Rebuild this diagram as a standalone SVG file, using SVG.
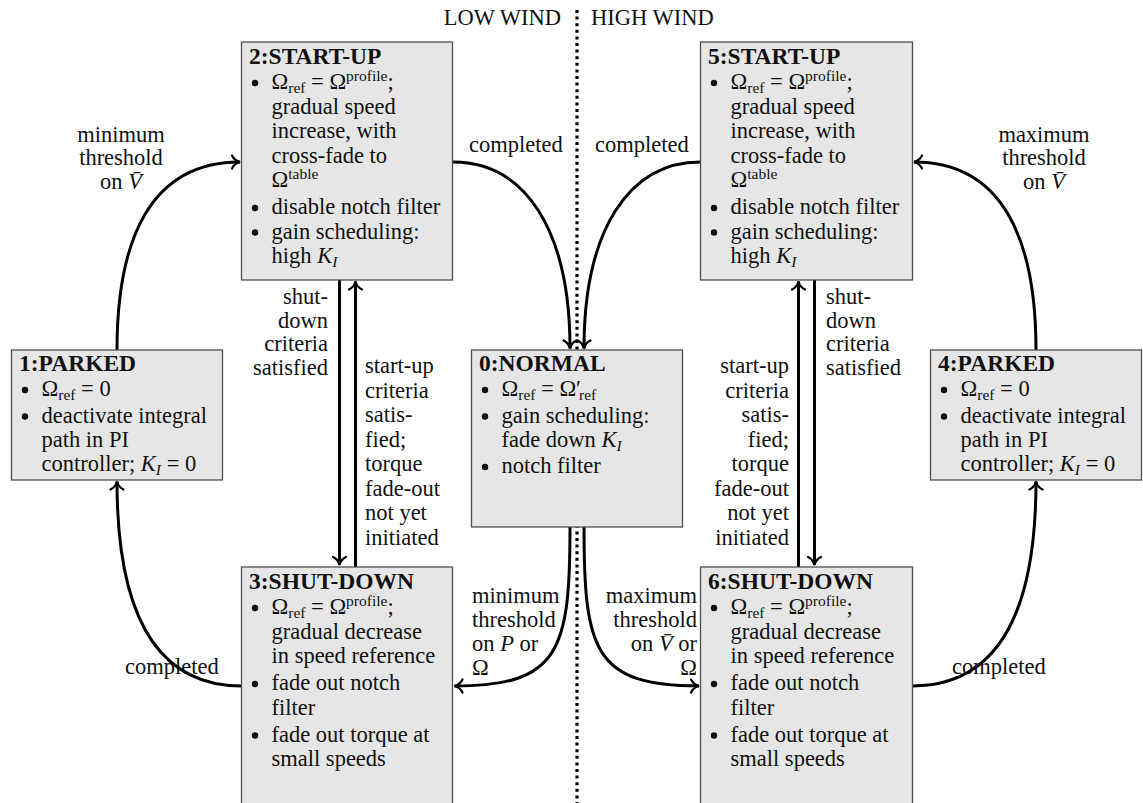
<svg xmlns="http://www.w3.org/2000/svg" width="1143" height="803" viewBox="0 0 1143 803">
<style>
.box{fill:#e6e6e6;stroke:#505050;stroke-width:1.3}
.t{font-family:'Liberation Serif','DejaVu Serif',serif;font-size:22.5px;fill:#111}
.ttl{font-weight:bold;font-size:23.5px}
.sub{font-size:15.5px}
.it{font-style:italic}
.bul{fill:#111}
.conn{fill:none;stroke:#000;stroke-width:3;marker-end:url(#ah)}
.dot{stroke:#000;stroke-width:3.2;stroke-dasharray:3 3.6;fill:none}
.e{text-anchor:end}
.m{text-anchor:middle}
</style>
<defs>
<marker id="ah" viewBox="-10 -8 12 16" refX="0" refY="0" markerWidth="12" markerHeight="16" markerUnits="userSpaceOnUse" orient="auto" overflow="visible">
<path d="M-8,-6.5 C-6,-2.5 -2.5,-0.6 0,0 C-2.5,0.6 -6,2.5 -8,6.5" fill="none" stroke="#000" stroke-width="2.2" stroke-linecap="round"/>
</marker>
</defs>

<g id="divider">
<line class="dot" x1="577" y1="10" x2="577" y2="803"/>
<text class="t e" x="561" y="25">LOW WIND</text>
<text class="t" x="591" y="25">HIGH WIND</text>
</g>

<g id="connectors">
<path class="conn" d="M117,350 C117,240 150,162 240,162"/>
<path class="conn" d="M453,162 C525,162 570,230 570,348.5"/>
<path class="conn" d="M700.5,162 C629,162 584,230 584,348.5"/>
<path class="conn" d="M1036,350 C1036,240 1003,162 914,162"/>
<path class="conn" d="M339.5,280 L339.5,565"/>
<path class="conn" d="M355.5,567 L355.5,281.5"/>
<path class="conn" d="M798.5,567 L798.5,281.5"/>
<path class="conn" d="M814.5,280 L814.5,565"/>
<path class="conn" d="M570,527 C570,650 560,686 454.5,686"/>
<path class="conn" d="M584,527 C584,650 594,686 699,686"/>
<path class="conn" d="M241.5,686 C160,686 117,620 117,481.5"/>
<path class="conn" d="M912.5,686 C993,686 1036,620 1036,481.5"/>

<g id="labels">
<text class="t m" x="121" y="142">minimum</text>
<text class="t m" x="121" y="165">threshold</text>
<text class="t m" x="121" y="189">on <tspan class="it">V̄</tspan></text>

<text class="t m" x="1044" y="142">maximum</text>
<text class="t m" x="1044" y="165">threshold</text>
<text class="t m" x="1044" y="189">on <tspan class="it">V̄</tspan></text>

<text class="t" x="469" y="152">completed</text>
<text class="t" x="595" y="152">completed</text>

<text class="t e" x="328" y="304">shut-</text>
<text class="t e" x="328" y="327.5">down</text>
<text class="t e" x="328" y="351">criteria</text>
<text class="t e" x="328" y="374.5">satisfied</text>

<text class="t" x="365" y="373">start-up</text>
<text class="t" x="365" y="397.5">criteria</text>
<text class="t" x="365" y="422">satis-</text>
<text class="t" x="365" y="446.5">fied;</text>
<text class="t" x="365" y="471">torque</text>
<text class="t" x="365" y="495.5">fade-out</text>
<text class="t" x="365" y="520">not yet</text>
<text class="t" x="365" y="544.5">initiated</text>

<text class="t e" x="789" y="373">start-up</text>
<text class="t e" x="789" y="397.5">criteria</text>
<text class="t e" x="789" y="422">satis-</text>
<text class="t e" x="789" y="446.5">fied;</text>
<text class="t e" x="789" y="471">torque</text>
<text class="t e" x="789" y="495.5">fade-out</text>
<text class="t e" x="789" y="520">not yet</text>
<text class="t e" x="789" y="544.5">initiated</text>

<text class="t" x="826" y="304">shut-</text>
<text class="t" x="826" y="327.5">down</text>
<text class="t" x="826" y="351">criteria</text>
<text class="t" x="826" y="374.5">satisfied</text>

<text class="t" x="472" y="603">minimum</text>
<text class="t" x="472" y="627">threshold</text>
<text class="t" x="472" y="651">on <tspan class="it">P</tspan> or</text>
<text class="t" x="472" y="675">Ω</text>

<text class="t e" x="697" y="603">maximum</text>
<text class="t e" x="697" y="627">threshold</text>
<text class="t e" x="697" y="651">on <tspan class="it">V̄</tspan> or</text>
<text class="t e" x="697" y="675">Ω</text>

<text class="t" x="125" y="674">completed</text>
<text class="t" x="952" y="674">completed</text>
</g>
</g>

<g id="n2">
<rect class="box" x="241.5" y="42" width="211" height="238"/>
<text class="t ttl" x="249" y="64">2:START-UP</text>
<circle class="bul" cx="255" cy="83" r="3.2"/>
<text class="t" x="271.5" y="89">Ω<tspan class="sub" dy="4">ref</tspan><tspan dy="-4"> = Ω</tspan><tspan class="sub" dy="-8">profile</tspan><tspan dy="8">;</tspan></text>
<text class="t" x="271.5" y="113.5">gradual speed</text>
<text class="t" x="271.5" y="138">increase, with</text>
<text class="t" x="271.5" y="162.5">cross-fade to</text>
<text class="t" x="271.5" y="187">Ω<tspan class="sub" dy="-8">table</tspan></text>
<circle class="bul" cx="255" cy="208" r="3.2"/>
<text class="t" x="271.5" y="214">disable notch filter</text>
<circle class="bul" cx="255" cy="232.5" r="3.2"/>
<text class="t" x="271.5" y="238.5">gain scheduling:</text>
<text class="t" x="271.5" y="263">high <tspan class="it">K</tspan><tspan class="sub it" dy="4">I</tspan></text>
</g>

<g id="n5">
<rect class="box" x="700.5" y="42" width="212" height="238"/>
<text class="t ttl" x="708" y="64">5:START-UP</text>
<circle class="bul" cx="714" cy="83" r="3.2"/>
<text class="t" x="730.5" y="89">Ω<tspan class="sub" dy="4">ref</tspan><tspan dy="-4"> = Ω</tspan><tspan class="sub" dy="-8">profile</tspan><tspan dy="8">;</tspan></text>
<text class="t" x="730.5" y="113.5">gradual speed</text>
<text class="t" x="730.5" y="138">increase, with</text>
<text class="t" x="730.5" y="162.5">cross-fade to</text>
<text class="t" x="730.5" y="187">Ω<tspan class="sub" dy="-8">table</tspan></text>
<circle class="bul" cx="714" cy="208" r="3.2"/>
<text class="t" x="730.5" y="214">disable notch filter</text>
<circle class="bul" cx="714" cy="232.5" r="3.2"/>
<text class="t" x="730.5" y="238.5">gain scheduling:</text>
<text class="t" x="730.5" y="263">high <tspan class="it">K</tspan><tspan class="sub it" dy="4">I</tspan></text>
</g>

<g id="n1">
<rect class="box" x="11.5" y="350" width="211" height="130"/>
<text class="t ttl" x="19" y="371">1:PARKED</text>
<circle class="bul" cx="25" cy="390" r="3.2"/>
<text class="t" x="41.5" y="396">Ω<tspan class="sub" dy="4">ref</tspan><tspan dy="-4"> = 0</tspan></text>
<circle class="bul" cx="25" cy="416.5" r="3.2"/>
<text class="t" x="41.5" y="422.5">deactivate integral</text>
<text class="t" x="41.5" y="446.5">path in PI</text>
<text class="t" x="41.5" y="470.5">controller; <tspan class="it">K</tspan><tspan class="sub it" dy="4">I</tspan><tspan dy="-4"> = 0</tspan></text>
</g>

<g id="n4">
<rect class="box" x="930.5" y="350" width="211" height="130"/>
<text class="t ttl" x="938" y="371">4:PARKED</text>
<circle class="bul" cx="944" cy="390" r="3.2"/>
<text class="t" x="960.5" y="396">Ω<tspan class="sub" dy="4">ref</tspan><tspan dy="-4"> = 0</tspan></text>
<circle class="bul" cx="944" cy="416.5" r="3.2"/>
<text class="t" x="960.5" y="422.5">deactivate integral</text>
<text class="t" x="960.5" y="446.5">path in PI</text>
<text class="t" x="960.5" y="470.5">controller; <tspan class="it">K</tspan><tspan class="sub it" dy="4">I</tspan><tspan dy="-4"> = 0</tspan></text>
</g>

<g id="n0">
<rect class="box" x="471.5" y="350" width="211" height="177"/>
<text class="t ttl" x="479" y="371">0:NORMAL</text>
<circle class="bul" cx="485" cy="390" r="3.2"/>
<text class="t" x="501.5" y="396">Ω<tspan class="sub" dy="4">ref</tspan><tspan dy="-4"> = Ω′</tspan><tspan class="sub" dx="-2" dy="4">ref</tspan></text>
<circle class="bul" cx="485" cy="416.5" r="3.2"/>
<text class="t" x="501.5" y="422.5">gain scheduling:</text>
<text class="t" x="501.5" y="446.5">fade down <tspan class="it">K</tspan><tspan class="sub it" dy="4">I</tspan></text>
<circle class="bul" cx="485" cy="467" r="3.2"/>
<text class="t" x="501.5" y="473">notch filter</text>
</g>

<g id="n3">
<rect class="box" x="241.5" y="567" width="211" height="240"/>
<text class="t ttl" x="249" y="589">3:SHUT-DOWN</text>
<circle class="bul" cx="255" cy="608" r="3.2"/>
<text class="t" x="271.5" y="614">Ω<tspan class="sub" dy="4">ref</tspan><tspan dy="-4"> = Ω</tspan><tspan class="sub" dy="-8">profile</tspan><tspan dy="8">;</tspan></text>
<text class="t" x="271.5" y="638.5">gradual decrease</text>
<text class="t" x="271.5" y="663">in speed reference</text>
<circle class="bul" cx="255" cy="684" r="3.2"/>
<text class="t" x="271.5" y="690">fade out notch</text>
<text class="t" x="271.5" y="714.5">filter</text>
<circle class="bul" cx="255" cy="735.5" r="3.2"/>
<text class="t" x="271.5" y="741.5">fade out torque at</text>
<text class="t" x="271.5" y="766">small speeds</text>
</g>

<g id="n6">
<rect class="box" x="700.5" y="567" width="212" height="240"/>
<text class="t ttl" x="708" y="589">6:SHUT-DOWN</text>
<circle class="bul" cx="714" cy="608" r="3.2"/>
<text class="t" x="730.5" y="614">Ω<tspan class="sub" dy="4">ref</tspan><tspan dy="-4"> = Ω</tspan><tspan class="sub" dy="-8">profile</tspan><tspan dy="8">;</tspan></text>
<text class="t" x="730.5" y="638.5">gradual decrease</text>
<text class="t" x="730.5" y="663">in speed reference</text>
<circle class="bul" cx="714" cy="684" r="3.2"/>
<text class="t" x="730.5" y="690">fade out notch</text>
<text class="t" x="730.5" y="714.5">filter</text>
<circle class="bul" cx="714" cy="735.5" r="3.2"/>
<text class="t" x="730.5" y="741.5">fade out torque at</text>
<text class="t" x="730.5" y="766">small speeds</text>
</g>
</svg>
